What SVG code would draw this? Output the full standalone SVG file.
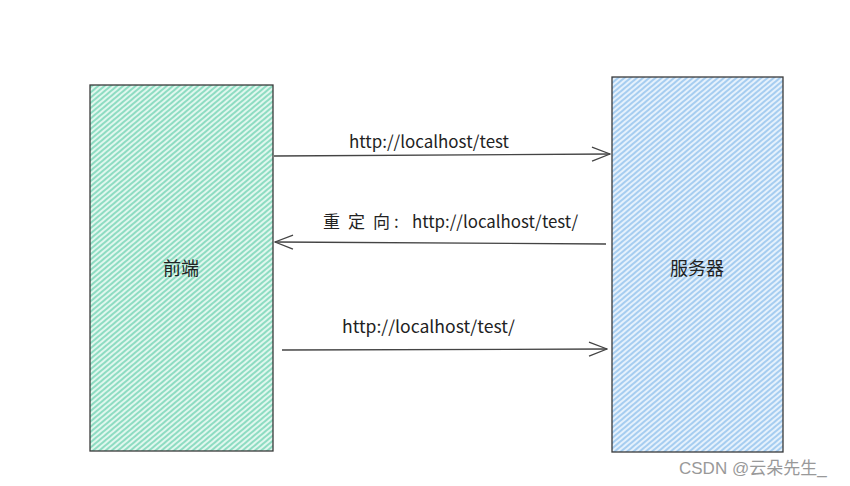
<svg xmlns="http://www.w3.org/2000/svg" width="850" height="486" viewBox="0 0 850 486">
<defs>
<pattern id="hg" width="4" height="4" patternUnits="userSpaceOnUse" patternTransform="rotate(-40)">
<rect width="4" height="4" fill="#e0f7ee"/>
<rect width="4" height="2" fill="#8edcc2"/>
</pattern>
<pattern id="hb" width="4" height="4" patternUnits="userSpaceOnUse" patternTransform="rotate(-40)">
<rect width="4" height="4" fill="#e5f1fc"/>
<rect width="4" height="2" fill="#a6cdf0"/>
</pattern>
<marker id="ah" viewBox="0 0 20 16" refX="19" refY="8" markerWidth="20" markerHeight="16" markerUnits="userSpaceOnUse" orient="auto">
<path d="M1 1 L19 8 L1 15" fill="none" stroke="#444" stroke-width="1.3"/>
</marker>
<style>
.box{stroke:#3a3a3a;stroke-width:1.3}
.lbl{font-family:"Comic Sans MS","Noto Sans CJK SC",sans-serif;font-size:17px;fill:#222}
.node{font-family:"Noto Sans CJK SC",sans-serif;font-size:18px;fill:#222;text-anchor:middle}
.edge{stroke:#444;stroke-width:1.3;fill:none;marker-end:url(#ah)}
</style>
</defs>
<rect width="850" height="486" fill="#fff"/>
<g id="frontend">
<rect class="box" x="90" y="85" width="183" height="366" fill="url(#hg)"/>
<text class="node" x="181" y="275">前端</text>
</g>
<g id="server">
<rect class="box" x="612" y="77" width="171" height="375" fill="url(#hb)"/>
<text class="node" x="697" y="275">服务器</text>
</g>
<g id="connectors">
<path class="edge" d="M274 156 L610 154"/>
<text class="lbl" x="349" y="148" textLength="160" lengthAdjust="spacingAndGlyphs">http://localhost/test</text>
<path class="edge" d="M606 244 L275 242"/>
<text class="lbl" y="228"><tspan x="323">重</tspan><tspan x="348">定</tspan><tspan x="373">向</tspan><tspan x="394">:</tspan><tspan x="412" textLength="166" lengthAdjust="spacingAndGlyphs">http://localhost/test/</tspan></text>
<path class="edge" d="M282 350 L607 349"/>
<text class="lbl" x="342" y="333" textLength="173" lengthAdjust="spacingAndGlyphs">http://localhost/test/</text>
</g>
<text x="679" y="474" font-family="'Liberation Sans','Noto Sans CJK SC',sans-serif" font-size="17" fill="#999">CSDN @云朵先生_</text>
</svg>
